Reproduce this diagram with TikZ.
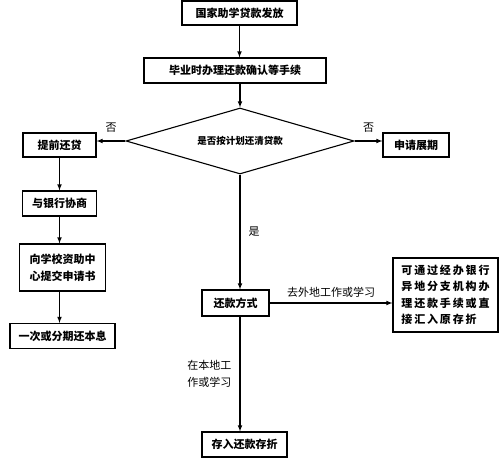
\documentclass[tikz,border=0pt]{standalone}
\usepackage{fontspec}
\setmainfont{Noto Sans CJK SC}
\usetikzlibrary{shapes.geometric}

\begin{document}
\begin{tikzpicture}[x=1pt,y=-1pt,>=latex,line width=1.1pt,
    box/.style={draw,rectangle,inner sep=0pt,font=\bfseries\fontsize{11}{16.5}\selectfont,align=center},
    lab/.style={font=\fontsize{11}{16.5}\selectfont,inner sep=2pt}]
                \useasboundingbox (0,0) rectangle (500,458);
                \node[box,minimum width=115pt,minimum height=24pt] (grant)   at (239.5,13)  {国家助学贷款发放};
                \node[box,minimum width=182pt,minimum height=25pt] (confirm) at (235,70.5)  {毕业时办理还款确认等手续};
                \node[box,diamond,aspect=3.45,minimum width=228pt,minimum height=66pt,font=\bfseries\fontsize{9.5}{12}\selectfont] (plan) at (240,141) {是否按计划还清贷款};
                \node[box,minimum width=73pt,minimum height=24pt]  (early)   at (59.5,145)  {提前还贷};
                \node[box,minimum width=66pt,minimum height=24pt]  (extend)  at (416,145)   {申请展期};
                \node[box,minimum width=74pt,minimum height=25pt]  (bank)    at (59.5,203.5){与银行协商};
                \node[box,minimum width=86pt,minimum height=47pt]  (apply)   at (62.5,267.5){向学校资助中\\心提交申请书};
                \node[box,minimum width=105pt,minimum height=25pt] (repay)   at (62.5,336)  {一次或分期还本息};
                \node[box,minimum width=67pt,minimum height=26pt]  (mode)    at (235.5,303) {还款方式};
                \node[box,minimum width=105pt,minimum height=74pt,align=left] (remote) at (445.5,295)
                    {\addfontfeature{LetterSpace=17}可通过经办银行\\\addfontfeature{LetterSpace=17}异地分支机构办\\\addfontfeature{LetterSpace=17}理还款手续或直\\\addfontfeature{LetterSpace=17}接汇入原存折};
                \node[box,minimum width=85pt,minimum height=25pt]  (deposit) at (244.5,444.5){存入还款存折};

                \draw [->] (grant) -- (confirm.north -| grant);
                \draw [->] (plan.north |- confirm.south) -- (plan.north);
                \draw [->] (plan.west) -- node[lab,above=6pt] {否} (early.east |- plan.west);
                \draw [->] (plan.east) -- node[lab,above=6pt] {否} (extend.west |- plan.east);
                \draw [->] (early) -- (bank);
                \draw [->] (bank) -- (bank |- apply.north);
                \draw [->] (bank |- apply.south) -- (bank |- repay.north);
                \draw [->] (plan.south) -- node[lab,right=6pt] {是} (plan.south |- mode.north);
                \draw [->] (mode.east) -- node[lab,above=3pt] {去外地工作或学习} (remote.west |- mode.east);
                \draw [->] (plan.south |- mode.south) -- node[lab,left=6pt,align=left] {在本地工\\作或学习} (plan.south |- deposit.north);
            \end{tikzpicture}
\end{document}
